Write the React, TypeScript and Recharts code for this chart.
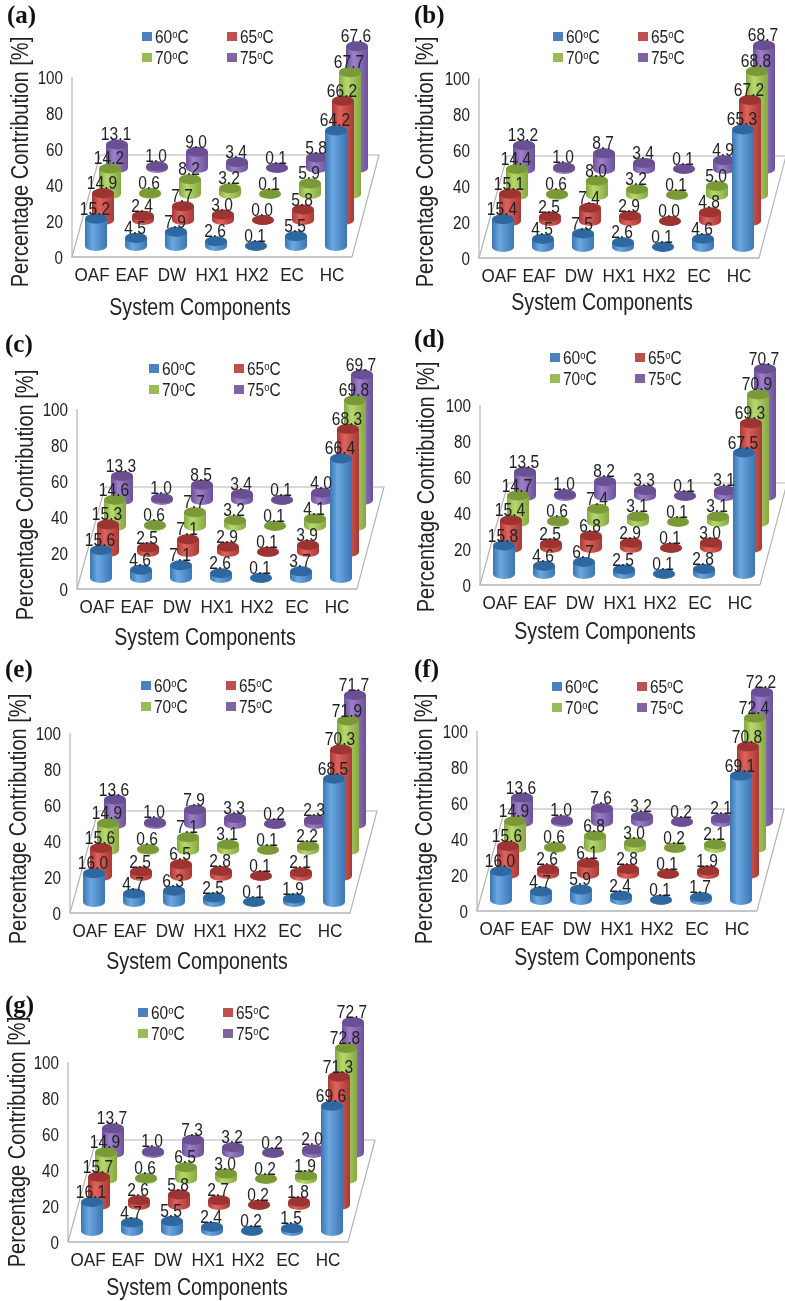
import React from 'react';
import { BarChart, Bar, XAxis, YAxis, LabelList } from 'recharts';

const categories = ['OAF', 'EAF', 'DW', 'HX1', 'HX2', 'EC', 'HC'];
const yTicks = [0, 20, 40, 60, 80, 100];
const temperatures = ['60', '65', '70', '75'];

const a60 = [15.2, 4.5, 7.9, 2.6, 0.1, 5.5, 64.2];
const a65 = [14.9, 2.4, 7.7, 3.0, 0.0, 5.8, 66.2];
const a70 = [14.2, 0.6, 8.2, 3.2, 0.1, 5.9, 67.7];
const a75 = [13.1, 1.0, 9.0, 3.4, 0.1, 5.8, 67.6];

const b60 = [15.4, 4.5, 7.5, 2.6, 0.1, 4.6, 65.3];
const b65 = [15.1, 2.5, 7.4, 2.9, 0.0, 4.8, 67.2];
const b70 = [14.4, 0.6, 8.0, 3.2, 0.1, 5.0, 68.8];
const b75 = [13.2, 1.0, 8.7, 3.4, 0.1, 4.9, 68.7];

const c60 = [15.6, 4.6, 7.1, 2.6, 0.1, 3.7, 66.4];
const c65 = [15.3, 2.5, 7.1, 2.9, 0.1, 3.9, 68.3];
const c70 = [14.6, 0.6, 7.7, 3.2, 0.1, 4.1, 69.8];
const c75 = [13.3, 1.0, 8.5, 3.4, 0.1, 4.0, 69.7];

const d60 = [15.8, 4.6, 6.7, 2.5, 0.1, 2.8, 67.5];
const d65 = [15.4, 2.5, 6.8, 2.9, 0.1, 3.0, 69.3];
const d70 = [14.7, 0.6, 7.4, 3.1, 0.1, 3.1, 70.9];
const d75 = [13.5, 1.0, 8.2, 3.3, 0.1, 3.1, 70.7];

const e60 = [16.0, 4.7, 6.3, 2.5, 0.1, 1.9, 68.5];
const e65 = [15.6, 2.5, 6.5, 2.8, 0.1, 2.1, 70.3];
const e70 = [14.9, 0.6, 7.1, 3.1, 0.1, 2.2, 71.9];
const e75 = [13.6, 1.0, 7.9, 3.3, 0.2, 2.3, 71.7];

const f60 = [16.0, 4.7, 5.9, 2.4, 0.1, 1.7, 69.1];
const f65 = [15.6, 2.6, 6.1, 2.8, 0.1, 1.9, 70.8];
const f70 = [14.9, 0.6, 6.8, 3.0, 0.2, 2.1, 72.4];
const f75 = [13.6, 1.0, 7.6, 3.2, 0.2, 2.1, 72.2];

const g60 = [16.1, 4.7, 5.5, 2.4, 0.2, 1.5, 69.6];
const g65 = [15.7, 2.6, 5.8, 2.7, 0.2, 1.8, 71.3];
const g70 = [14.9, 0.6, 6.5, 3.0, 0.2, 1.9, 72.8];
const g75 = [13.7, 1.0, 7.3, 3.2, 0.2, 2.0, 72.7];

const panelValues = [
  { name: 'a', series: [a60, a65, a70, a75] },
  { name: 'b', series: [b60, b65, b70, b75] },
  { name: 'c', series: [c60, c65, c70, c75] },
  { name: 'd', series: [d60, d65, d70, d75] },
  { name: 'e', series: [e60, e65, e70, e75] },
  { name: 'f', series: [f60, f65, f70, f75] },
  { name: 'g', series: [g60, g65, g70, g75] },
];

// where each panel sits on the page, and its loose text relative to that
const panelLayout = [
  { left: 0, top: 0, letter: [7, 23], legend: [142, 37], xTitle: [200, 315], yTitle: [21, 162] },
  { left: 407, top: 1, letter: [7, 22], legend: [146, 36], xTitle: [195, 309], yTitle: [19, 161] },
  { left: 5, top: 332, letter: [0, 20], legend: [144, 37], xTitle: [200, 313], yTitle: [21, 163] },
  { left: 408, top: 328, letter: [6, 19], legend: [142, 30], xTitle: [197, 311], yTitle: [19, 159] },
  { left: -2, top: 656, letter: [7, 21], legend: [143, 30], xTitle: [199, 313], yTitle: [21, 163] },
  { left: 405, top: 654, letter: [9, 23], legend: [147, 33], xTitle: [200, 311], yTitle: [20, 165] },
  { left: -4, top: 985, letter: [9, 28], legend: [142, 28], xTitle: [201, 310], yTitle: [22, 157] },
];

const seriesStyle = [
  { edge: '#3b76b3', light: '#6ba7e0', top: '#2f67a0', swatch: '#4a82c0' },
  { edge: '#a83a36', light: '#e0625c', top: '#9c3431', swatch: '#c0504d' },
  { edge: '#86a843', light: '#b7d96c', top: '#7a9a3a', swatch: '#9bbb59' },
  { edge: '#6d519a', light: '#9d7fca', top: '#6a4f93', swatch: '#8064a2' },
];

const FONT = '"Liberation Sans", Arial, sans-serif';
const INK = '#222222';
const AXIS_GREY = '#b4b4b4';
const CHART_W = 385;
const CHART_H = 330;
const PLOT = { left: 72, top: 77, width: 280, height: 180 };
const BAR_W = 22;
const RY = 5;
// oblique offsets that fake the 3D depth
const BASE_DX = 4;
const BASE_DY = -11;
const STEP_DX = 7;
const STEP_DY = -26;

const depthX = (d: number) => BASE_DX + STEP_DX * d;
const depthY = (d: number) => BASE_DY + STEP_DY * d;

// the source type is a condensed sans, so squeeze Liberation Sans horizontally
const Narrow = ({ x, y, squeeze, size, anchor = 'middle', turn = 0, children }: any) => (
  <text
    transform={`translate(${x},${y}) rotate(${turn}) scale(${squeeze},1)`}
    textAnchor={anchor}
    fontFamily={FONT}
    fontSize={size}
    fill={INK}
  >
    {children}
  </text>
);

const Cylinder = (props: any) => {
  const { x, y, width, height, depth } = props;
  const rx = width / 2;
  const cx = x + rx + depthX(depth);
  const topY = y + depthY(depth);
  const baseY = y + height + depthY(depth);
  const body = `M${cx - rx},${topY} L${cx - rx},${baseY} A${rx},${RY} 0 0 0 ${cx + rx},${baseY} L${cx + rx},${topY} Z`;
  return (
    <g>
      <path d={body} fill={`url(#cyl${depth})`} />
      <ellipse cx={cx} cy={topY} rx={rx} ry={RY} fill={seriesStyle[depth].top} />
    </g>
  );
};

const ValueLabel = (props: any) => {
  const { x, y, width, value, depth } = props;
  return (
    <Narrow x={x + width / 2 + depthX(depth) - 1} y={y + depthY(depth) - 4} squeeze={0.82} size={19}>
      {Number(value).toFixed(1)}
    </Narrow>
  );
};

const CategoryTick = ({ x, y, payload }: any) => (
  <Narrow x={x} y={y + 16} squeeze={0.9} size={19}>
    {payload.value}
  </Narrow>
);

const ValueTick = ({ x, y, payload }: any) => (
  <Narrow x={x - 1} y={y + 7} squeeze={0.8} size={19} anchor="end">
    {payload.value}
  </Narrow>
);

const Defs = () => (
  <defs>
    {seriesStyle.map((s, i) => (
      <linearGradient key={i} id={`cyl${i}`} x1="0" x2="1" y1="0" y2="0">
        <stop offset="0%" stopColor={s.edge} />
        <stop offset="35%" stopColor={s.light} />
        <stop offset="100%" stopColor={s.edge} />
      </linearGradient>
    ))}
  </defs>
);

const Floor = () => {
  const right = PLOT.left + PLOT.width;
  const bottom = PLOT.top + PLOT.height;
  const backY = bottom - 102;
  return (
    <polygon
      points={`${PLOT.left},${bottom} ${right},${bottom} ${right + 27},${backY} ${PLOT.left + 28},${backY}`}
      fill="none"
      stroke={AXIS_GREY}
      strokeWidth={1.2}
    />
  );
};

const PanelText = ({ layout }: any) => (
  <g>
    {temperatures.map((t, i) => {
      const lx = layout.legend[0] + (i % 2) * 85;
      const ly = layout.legend[1] + (i > 1 ? 21 : 0);
      return (
        <g key={t}>
          <rect x={lx} y={ly - 5} width={10} height={9} fill={seriesStyle[i].swatch} />
          <Narrow x={lx + 13} y={ly + 6} squeeze={0.86} size={18} anchor="start">
            {t}
            <tspan dy={-5} fontSize={11}>o</tspan>
            <tspan dy={5}>C</tspan>
          </Narrow>
        </g>
      );
    })}
    <Narrow x={layout.xTitle[0]} y={layout.xTitle[1]} squeeze={0.85} size={23}>
      System Components
    </Narrow>
    <Narrow x={layout.yTitle[0] + 7} y={layout.yTitle[1]} squeeze={0.835} size={24} turn={-90}>
      Percentage Contribution [%]
    </Narrow>
  </g>
);

const Panel = ({ index }: { index: number }) => {
  const layout = panelLayout[index];
  const series = panelValues[index].series;
  const table = categories.map((name, i) => ({
    name,
    t60: series[0][i],
    t65: series[1][i],
    t70: series[2][i],
    t75: series[3][i],
  }));
  // back row first, so the nearer cylinders paint over it
  const order = [3, 2, 1, 0];
  return (
    <div style={{ position: 'absolute', left: layout.left, top: layout.top }}>
      <BarChart
        width={CHART_W}
        height={CHART_H}
        data={table}
        barSize={BAR_W}
        barGap={-BAR_W}
        margin={{
          top: PLOT.top,
          left: 0,
          right: CHART_W - PLOT.left - PLOT.width,
          bottom: CHART_H - PLOT.top - PLOT.height - 30,
        }}
      >
        <Defs />
        <Floor />
        <XAxis
          dataKey="name"
          height={30}
          interval={0}
          tickLine={false}
          axisLine={{ stroke: AXIS_GREY, strokeWidth: 1.2 }}
          tick={<CategoryTick />}
        />
        <YAxis
          width={PLOT.left}
          domain={[0, 100]}
          ticks={yTicks}
          interval={0}
          tickLine={false}
          axisLine={{ stroke: AXIS_GREY, strokeWidth: 1.2 }}
          tick={<ValueTick />}
        />
        {order.map((d) => (
          <Bar
            key={d}
            dataKey={`t${temperatures[d]}`}
            isAnimationActive={false}
            shape={(p: any) => <Cylinder {...p} depth={d} />}
          >
            <LabelList
              dataKey={`t${temperatures[d]}`}
              content={(p: any) => <ValueLabel {...p} depth={d} />}
            />
          </Bar>
        ))}
        <PanelText layout={layout} />
      </BarChart>
      {/* plain html so the tall serif letter is not clipped by the svg edge */}
      <div
        style={{
          position: 'absolute',
          left: layout.letter[0],
          top: layout.letter[1] - 21,
          fontFamily: '"Liberation Serif", serif',
          fontWeight: 'bold',
          fontSize: 25,
          lineHeight: '25px',
          color: '#111',
        }}
      >
        ({panelValues[index].name})
      </div>
    </div>
  );
};

export default function App() {
  return (
    <div style={{ position: 'absolute', left: 0, top: 0, width: 785, height: 1301, overflow: 'hidden', background: '#fff', filter: 'blur(0.35px)' }}>
      {panelValues.map((p, i) => (
        <Panel key={p.name} index={i} />
      ))}
    </div>
  );
}
